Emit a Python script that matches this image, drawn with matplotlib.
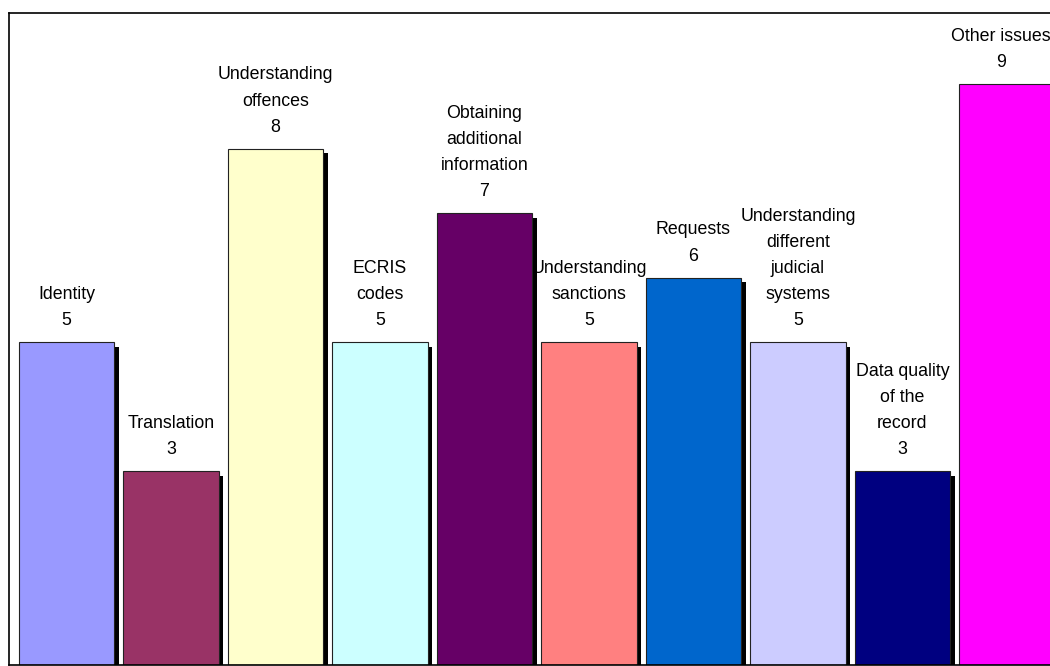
import matplotlib.pyplot as plt
import numpy as np

categories = ["Identity", "Translation", "Understanding\noffences", "ECRIS\ncodes",
              "Obtaining\nadditional\ninformation", "Understanding\nsanctions", "Requests",
              "Understanding\ndifferent\njudicial\nsystems", "Data quality\nof the\nrecord",
              "Other issues"]
counts = [5, 3, 8, 5, 7, 5, 6, 5, 3, 9]
colors = ["#9999FF", "#993366", "#FFFFCC", "#CCFFFF", "#660066",
          "#FF8080", "#0066CC", "#CCCCFF", "#000080", "#FF00FF"]

plt.rcParams["font.family"] = ["Liberation Sans", "DejaVu Sans"]

fig = plt.figure(figsize=(10.5, 6.66), dpi=100)
# axes spill past the right edge of the figure
ax = fig.add_axes([9 / 1050, 1.5 / 666, 1055 / 1050, 651.5 / 666])

x = np.arange(len(counts))
width = 0.91
px_x = 1 / 104.5
px_y = 1 / 64.5

# black drop shadow behind each bar
ax.bar(x + 4.5 * px_x, np.array(counts) - 4.5 * px_y, width=width, color="black", zorder=1)
ax.bar(x, counts, width=width, color=colors, edgecolor="#222222", linewidth=0.8, zorder=2)

for xi, cat, v in zip(x, categories, counts):
    # pull the last label in a little from the right edge
    shift = -6 * px_x if xi == len(counts) - 1 else 0
    ax.text(xi + shift, v + 0.2, f"{cat}\n{v}", ha="center", va="bottom", fontsize=12.8,
            linespacing=1.7, zorder=3)

ax.set_xlim(-0.55, -0.55 + 1055 / 104.5)
ax.set_ylim(0, 651.5 / 64.5)
ax.set_xticks([])
ax.set_yticks([])
for s in ax.spines.values():
    s.set_linewidth(1.2)

fig.savefig("out.png", dpi=100)
